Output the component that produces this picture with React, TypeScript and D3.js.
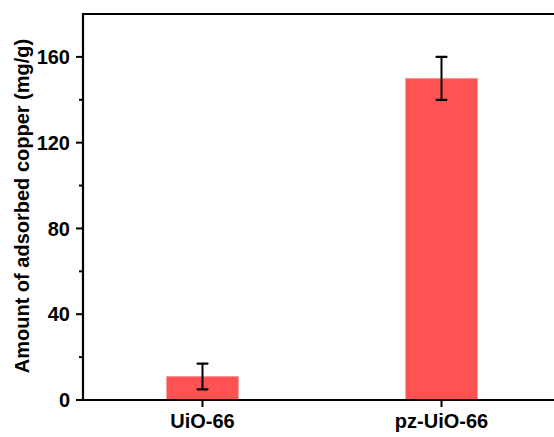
import React from "react";
import * as d3 from "d3";

const categories = ["UiO-66", "pz-UiO-66"];
const values = [11, 150];
const errors = [6, 10];
const yTicks = [0, 40, 80, 120, 160];
const yMinorTicks = [20, 60, 100, 140];

export default function App() {
  const W = 554, H = 437;
  const left = 83, top = 14, bottom = 400, right = 561;
  const x = d3.scaleLinear().domain([0.5, 2.5]).range([left, right]);
  const y = d3.scaleLinear().domain([0, 180]).range([bottom, top]);
  const bw = x(1.3) - x(1);
  const font = "'Liberation Sans', Arial, sans-serif";
  return (
    <svg width={W} height={H} style={{ position: "absolute", left: 0, top: 0, background: "#fff", overflow: "hidden" }}>
      {categories.map((c, i) => {
        const cx = x(i + 1);
        return (
          <g key={c}>
            <rect x={cx - bw / 2} y={y(values[i])} width={bw} height={y(0) - y(values[i])} fill="#ff5252" stroke="#e89a9a" strokeWidth={0.8} />
            <line x1={cx} x2={cx} y1={y(values[i] + errors[i])} y2={y(values[i] - errors[i])} stroke="#000" strokeWidth={2} />
            <line x1={cx - 5} x2={cx + 5} y1={y(values[i] + errors[i])} y2={y(values[i] + errors[i])} stroke="#000" strokeWidth={2.2} strokeLinecap="round" />
            <line x1={cx - 5} x2={cx + 5} y1={y(values[i] - errors[i])} y2={y(values[i] - errors[i])} stroke="#000" strokeWidth={2.2} strokeLinecap="round" />
            <line x1={cx} x2={cx} y1={bottom} y2={bottom + 7} stroke="#000" strokeWidth={2} />
            <text x={cx} y={428} textAnchor="middle" fontFamily={font} fontWeight="bold" fontSize={20} fill="#000">{c}</text>
          </g>
        );
      })}
      {yTicks.map(t => (
        <g key={"t" + t}>
          <line x1={left - 7} x2={left} y1={y(t)} y2={y(t)} stroke="#000" strokeWidth={2} />
          <text x={70} y={y(t)} dy="0.36em" textAnchor="end" fontFamily={font} fontWeight="bold" fontSize={20} fill="#000">{t}</text>
        </g>
      ))}
      {yMinorTicks.map(t => (
        <line key={"m" + t} x1={left - 4} x2={left} y1={y(t)} y2={y(t)} stroke="#000" strokeWidth={2} />
      ))}
      <line x1={left} x2={left} y1={top - 1} y2={bottom + 1} stroke="#000" strokeWidth={2.2} />
      <path d={`M${left - 1},${bottom}H${W}`} stroke="#000" strokeWidth={2.2} fill="none" />
      <path d={`M${left - 1},${top}H${W}`} stroke="#000" strokeWidth={2.2} fill="none" />
      <text transform={`translate(28.5, ${(38 + 374) / 2}) rotate(-90)`} textAnchor="middle" fontFamily={font} fontWeight="bold" fontSize={20} fill="#000">Amount of adsorbed copper (mg/g)</text>
    </svg>
  );
}
